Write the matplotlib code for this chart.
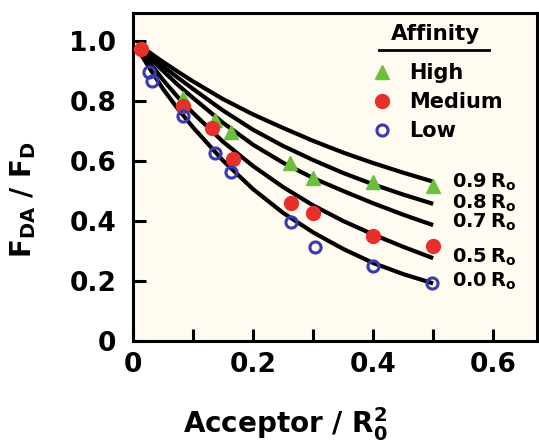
import matplotlib
matplotlib.use("Agg")
import matplotlib.pyplot as plt
from matplotlib.ticker import MultipleLocator, FixedLocator, FuncFormatter

plt.rcParams['font.family'] = ['DejaVu Sans']
plt.rcParams['font.weight'] = 'bold'
plt.rcParams['mathtext.fontset'] = 'custom'
plt.rcParams['mathtext.rm'] = 'DejaVu Sans:bold'
plt.rcParams['mathtext.it'] = 'DejaVu Sans:bold'
plt.rcParams['mathtext.bf'] = 'DejaVu Sans:bold'
plt.rcParams['mathtext.default'] = 'rm'

# ---- data ----
high_x = [0.084, 0.136, 0.163, 0.262, 0.300, 0.400, 0.500]
high_y = [0.809, 0.737, 0.698, 0.594, 0.542, 0.531, 0.517]

med_x = [0.013, 0.083, 0.131, 0.166, 0.264, 0.300, 0.400, 0.500]
med_y = [0.972, 0.783, 0.709, 0.606, 0.459, 0.426, 0.351, 0.318]

low_x = [0.026, 0.032, 0.083, 0.137, 0.164, 0.263, 0.303, 0.400, 0.498]
low_y = [0.896, 0.867, 0.750, 0.628, 0.564, 0.396, 0.312, 0.250, 0.192]

curve_x = [0.010, 0.025, 0.05, 0.075, 0.10, 0.15, 0.20, 0.25, 0.30, 0.35, 0.40, 0.45, 0.50]
curve_09 = [0.986, 0.965, 0.930, 0.897, 0.865, 0.806, 0.755, 0.710, 0.667, 0.628, 0.593, 0.561, 0.531]
curve_08 = [0.983, 0.958, 0.915, 0.877, 0.840, 0.768, 0.704, 0.650, 0.603, 0.560, 0.522, 0.488, 0.457]
curve_07 = [0.980, 0.950, 0.900, 0.853, 0.810, 0.727, 0.654, 0.594, 0.543, 0.500, 0.459, 0.421, 0.386]
curve_05 = [0.975, 0.935, 0.870, 0.812, 0.760, 0.664, 0.583, 0.513, 0.452, 0.400, 0.355, 0.314, 0.276]
curve_00 = [0.966, 0.917, 0.840, 0.773, 0.712, 0.601, 0.506, 0.427, 0.362, 0.307, 0.260, 0.223, 0.192]
curve_labels = ['0.9\u2009R$_o$', '0.8\u2009R$_o$', '0.7\u2009R$_o$', '0.5\u2009R$_o$', '0.0\u2009R$_o$']
curve_label_y = [0.530, 0.460, 0.395, 0.280, 0.200]

legend_labels = ['High', 'Medium', 'Low']

# ---- figure ----
W, H = 539, 442
fig = plt.figure(figsize=(W / 100, H / 100), dpi=100)
fig.patch.set_facecolor('white')
ax = fig.add_axes([133 / W, (H - 341) / H, (537 - 133) / W, (341 - 13) / H])
ax.set_facecolor('#fffbf1')

for cy in [curve_09, curve_08, curve_07, curve_05, curve_00]:
    ax.plot(curve_x, cy, color='black', lw=3.0, solid_capstyle='butt',
            solid_joinstyle='round', zorder=2)

h_hi, = ax.plot(high_x, high_y, ls='none', marker='^', ms=10, color='#6cbf3c',
                mec='#6cbf3c', zorder=3)
h_me, = ax.plot(med_x, med_y, ls='none', marker='o', ms=10, color='#e8302a',
                mec='#e8302a', zorder=3)
h_lo, = ax.plot(low_x, low_y, ls='none', marker='o', ms=8, mfc='none',
                mec='#3a3ab0', mew=2.2, zorder=3)

for lab, yy in zip(curve_labels, curve_label_y):
    ax.text(0.532, yy, lab, fontsize=14, ha='left', va='center', fontweight='bold')

ax.set_xlim(0, 0.673)
ax.set_ylim(0, 1.093)

ax.xaxis.set_major_locator(MultipleLocator(0.1))
ax.xaxis.set_major_formatter(FuncFormatter(
    lambda v, p: ('0' if abs(v) < 1e-9 else f'{v:.1f}') if round(v * 10) % 2 == 0 else ''))
ax.yaxis.set_major_locator(FixedLocator([0, 0.2, 0.4, 0.6, 0.8, 1.0]))
ax.yaxis.set_major_formatter(FuncFormatter(
    lambda v, p: '0' if abs(v) < 1e-9 else f'{v:.1f}'))

ax.tick_params(axis='both', direction='in', length=9, width=2.2, labelsize=19)
ax.tick_params(axis='x', pad=8)
ax.tick_params(axis='y', pad=12)
ax.tick_params(top=False, right=False)
for s in ax.spines.values():
    s.set_linewidth(2.2)

ax.set_xlabel('Acceptor / R$_0^2$', fontsize=20, fontweight='bold')
ax.xaxis.set_label_coords(0.376, -0.195)
ax.set_ylabel('F$_{DA}$ / F$_D$', fontsize=20, fontweight='bold')
ax.yaxis.set_label_coords(-0.235, 0.43)

leg = ax.legend([h_hi, h_me, h_lo], legend_labels, loc='upper left',
                bbox_to_anchor=(0.57, 0.872), frameon=False, fontsize=15,
                handlelength=1.0, handletextpad=0.8, labelspacing=0.42,
                borderaxespad=0)
for t in leg.get_texts():
    t.set_fontweight('bold')

ax.text(0.748, 0.935, 'Affinity', transform=ax.transAxes, fontsize=15.5,
        ha='center', va='center', fontweight='bold')
ax.plot([0.608, 0.88], [0.888, 0.888], transform=ax.transAxes, color='black',
        lw=2.0, clip_on=False)

fig.savefig('out.png', dpi=100)
